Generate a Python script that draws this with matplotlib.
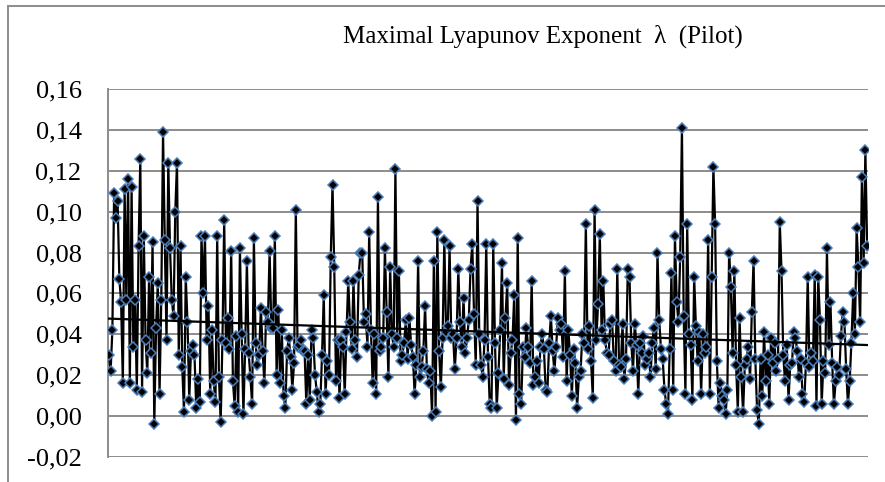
import numpy as np
import matplotlib
matplotlib.use("Agg")
import matplotlib.pyplot as plt
from matplotlib.lines import Line2D

title = "Maximal Lyapunov Exponent  \u03bb  (Pilot)"
ytick_values = [-0.02, 0.00, 0.02, 0.04, 0.06, 0.08, 0.10, 0.12, 0.14, 0.16]
ytick_labels = ["-0,02", "0,00", "0,02", "0,04", "0,06", "0,08", "0,10", "0,12", "0,14", "0,16"]

seg1 = [0.030, 0.022, 0.042, 0.109, 0.097, 0.105, 0.067, 0.056, 0.016, 0.111, 0.057, 0.116, 0.016, 0.112,
        0.034, 0.057, 0.013, 0.083, 0.126, 0.012, 0.088, 0.037, 0.021, 0.068, 0.031, 0.085, -0.004, 0.043,
        0.065, 0.011, 0.057, 0.139, 0.086, 0.037, 0.124, 0.082, 0.057, 0.049, 0.100, 0.124, 0.030, 0.083,
        0.024, 0.002, 0.068, 0.046, 0.008, 0.032, 0.035, 0.030, 0.004, 0.018, 0.007, 0.088, 0.060, 0.088,
        0.037, 0.054, 0.011, 0.042, 0.017, 0.007, 0.088, 0.019, -0.003, 0.037, 0.096, 0.036, 0.048, 0.033,
        0.081, 0.017, 0.005, 0.039, 0.002]
seg2 = [0.082, 0.040, 0.001, 0.033, 0.076, 0.031, 0.019, 0.006, 0.087, 0.036, 0.025, 0.030, 0.053, 0.032,
        0.016, 0.051, 0.046, 0.081, 0.043, 0.043, 0.088, 0.020, 0.052, 0.016, 0.042, 0.010, 0.004, 0.032,
        0.038, 0.029, 0.013, 0.026, 0.101, 0.034, 0.035, 0.037, 0.032, 0.032, 0.006, 0.030, 0.008, 0.042,
        0.038, 0.020, 0.012, 0.002, 0.006, 0.030, 0.059, 0.011, 0.027, 0.020, 0.078, 0.113, 0.073, 0.017,
        0.037, 0.009, 0.037, 0.034, 0.011, 0.041, 0.066, 0.046, 0.033, 0.066, 0.037, 0.029, 0.069, 0.080]
seg3 = [0.080, 0.046, 0.050, 0.034, 0.090, 0.042, 0.016, 0.040, 0.011, 0.107, 0.032, 0.034, 0.038, 0.082,
        0.051, 0.019, 0.073, 0.040, 0.034, 0.121, 0.038, 0.071, 0.027, 0.030, 0.036, 0.047, 0.028, 0.048,
        0.035, 0.029, 0.011, 0.025, 0.076, 0.019, 0.024, 0.032, 0.054, 0.023, 0.016, 0.022, 0.000, 0.076,
        0.002, 0.090, 0.032, 0.014, 0.038, 0.086, 0.041, 0.044, 0.083, 0.038, 0.040, 0.023, 0.038, 0.072,
        0.046, 0.034, 0.058, 0.031, 0.038, 0.047, 0.072, 0.084, 0.050, 0.025, 0.105, 0.040, 0.025, 0.019,
        0.037, 0.084, 0.029, 0.006, 0.004]
seg4 = [0.084, 0.036, 0.004, 0.021, 0.042, 0.075, 0.018, 0.048, 0.065, 0.015, 0.031, 0.037, 0.059, -0.002,
        0.087, 0.011, 0.006, 0.034, 0.029, 0.043, 0.034, 0.026, 0.066, 0.015, 0.019, 0.027, 0.016, 0.034,
        0.040, 0.033, 0.013, 0.012, 0.036, 0.049, 0.032, 0.022, 0.034, 0.048, 0.042, 0.045, 0.029, 0.071,
        0.017, 0.042, 0.030, 0.010, 0.033, 0.026, 0.004, 0.019, 0.022, 0.040, 0.036, 0.094, 0.033, 0.044,
        0.027, 0.009, 0.101, 0.037, 0.055, 0.089, 0.042, 0.066, 0.037, 0.031, 0.030, 0.045, 0.047, 0.027,
        0.022, 0.072, 0.025, 0.024]
seg5 = [0.045, 0.018, 0.028, 0.072, 0.068, 0.036, 0.022, 0.045, 0.035, 0.011, 0.036, 0.031, 0.039, 0.025,
        0.028, 0.031, 0.019, 0.036, 0.043, 0.023, 0.080, 0.047, 0.033, 0.028, 0.013, 0.006, 0.001, 0.033,
        0.070, 0.013, 0.088, 0.056, 0.046, 0.078, 0.141, 0.049, 0.011, 0.094, 0.040, 0.035, 0.008, 0.068,
        0.044, 0.027, 0.041, 0.011, 0.040, 0.031, 0.034, 0.086, 0.011, 0.068, 0.122, 0.094, 0.027, 0.004,
        0.016, 0.010, 0.008, 0.001, 0.013, 0.080, 0.063, 0.031, 0.071, 0.025, 0.002, 0.048, 0.019]
seg6 = [0.002, 0.025, 0.028, 0.034, 0.018, 0.051, 0.076, 0.028, 0.003, -0.004, 0.028, 0.010, 0.041, 0.017,
        0.030, 0.006, 0.038, 0.026, 0.036, 0.022, 0.028, 0.095, 0.071, 0.030, 0.017, 0.035, 0.008, 0.025,
        0.026, 0.041, 0.038, 0.032, 0.019, 0.028, 0.011, 0.007, 0.026, 0.068, 0.024, 0.031, 0.027, 0.069,
        0.005, 0.068, 0.047, 0.006, 0.027, 0.021, 0.082, 0.035, 0.056, 0.026, 0.006, 0.017, 0.024, 0.020,
        0.039, 0.051, 0.046, 0.023, 0.006, 0.017, 0.036, 0.060, 0.040, 0.092, 0.073, 0.046, 0.117, 0.075,
        0.130, 0.083]

values = np.array(seg1 + seg2 + seg3 + seg4 + seg5 + seg6)
n = len(values)
idx = np.arange(1, n + 1)

W, H = 885, 482
fig = plt.figure(figsize=(W / 100, H / 100), dpi=100)
fig.patch.set_facecolor("white")

ax = fig.add_axes([108 / W, (H - 457) / H, (868 - 108) / W, (457 - 89) / H])
ax.set_xlim(0.5, n + 0.5)
ax.set_ylim(-0.02, 0.16)

grid_col = "#8c8c8c"
ax.set_yticks(ytick_values)
ax.set_yticklabels(ytick_labels, fontfamily="Liberation Serif", fontsize=19)
ax.yaxis.grid(True, color=grid_col, linewidth=1.4)
ax.set_axisbelow(True)
ax.tick_params(axis="y", length=0, pad=19)
ax.set_xticks([])
for s in ["top", "right", "bottom"]:
    ax.spines[s].set_visible(False)
ax.spines["left"].set_color(grid_col)
ax.spines["left"].set_linewidth(1.4)

ax.plot(idx, values, color="black", linewidth=1.6, marker="D", markersize=5.5,
        markerfacecolor="black", markeredgecolor="#4a7ebb", markeredgewidth=1.1, zorder=3)

coef = np.polyfit(idx, values, 1)
trend = np.polyval(coef, idx)
ax.plot(idx, trend, color="black", linewidth=1.6, zorder=4)

fig.text(543 / W, 1 - 36 / H, title, fontfamily="Liberation Serif", fontsize=18,
         ha="center", va="center")

fig.add_artist(Line2D([8 / W, 8 / W], [0, 1 - 6 / H], color=grid_col, linewidth=1.4,
                      transform=fig.transFigure))
fig.add_artist(Line2D([8 / W, 1], [1 - 6 / H, 1 - 6 / H], color=grid_col, linewidth=1.4,
                      transform=fig.transFigure))

fig.savefig("out.png", dpi=100, facecolor="white")
